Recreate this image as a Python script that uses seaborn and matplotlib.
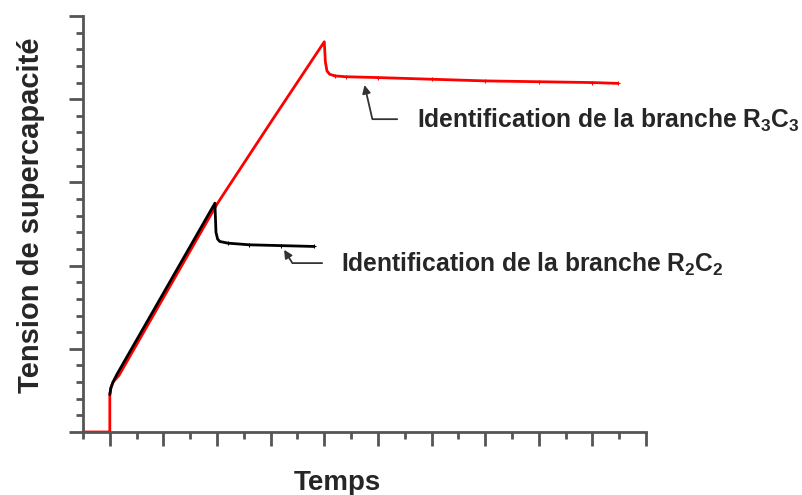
import numpy as np
import pandas as pd
import matplotlib
matplotlib.use('Agg')
import matplotlib.pyplot as plt
import seaborn as sns

# curve (arbitrary units, no tick labels in the original)
red_t = [-0.5, 0.0, 0.0, 0.0, 0.02, 0.06, 0.17, 1.51, 2.00, 3.03, 4.00,
         4.02, 4.05, 4.10, 4.20, 4.40, 5.00, 6.00, 7.00, 8.00, 9.00, 9.48]
red_v = [0.0, 0.0, 0.30, 0.45, 0.53, 0.60, 0.68, 2.19, 2.74, 3.75, 4.69,
         4.45, 4.34, 4.30, 4.28, 4.27, 4.26, 4.24, 4.22, 4.21, 4.20, 4.19]

black_t = [0.0, 0.02, 0.06, 0.13, 1.96,
           1.98, 2.01, 2.05, 2.20, 2.60, 3.20, 3.81]
black_v = [0.45, 0.53, 0.60, 0.69, 2.75,
           2.40, 2.32, 2.29, 2.27, 2.25, 2.24, 2.23]

label_r3 = 'Identification de la branche R$_3$C$_3$'
label_r2 = 'Identification de la branche R$_2$C$_2$'

red_df = pd.DataFrame({'t': red_t, 'v': red_v})
black_df = pd.DataFrame({'t': black_t, 'v': black_v})

sns.set_style('white')
plt.rcParams['font.family'] = ['Liberation Sans', 'DejaVu Sans']
plt.rcParams['mathtext.fontset'] = 'custom'
plt.rcParams['mathtext.rm'] = 'Liberation Sans:bold'
plt.rcParams['mathtext.it'] = 'Liberation Sans:bold'
plt.rcParams['mathtext.bf'] = 'Liberation Sans:bold'

fig = plt.figure(figsize=(8.02, 4.95), dpi=100)
ax = fig.add_axes([83 / 802, 1 - 432 / 495, 563 / 802, 416 / 495])

sns.lineplot(data=red_df, x='t', y='v', color='#ff0000', lw=2, sort=False,
             estimator=None, marker='+', markersize=3, mec='#ff0000',
             markevery=list(range(14, 22)), ax=ax)
sns.lineplot(data=black_df, x='t', y='v', color='black', lw=2, sort=False,
             estimator=None, marker='+', markersize=3, mec='black',
             markevery=list(range(8, 12)), ax=ax)

ax.set_xlim(-0.5, 10)
ax.set_ylim(0, 5)
ax.set_xticks(np.arange(0, 11, 1))
ax.set_xticks(np.arange(-0.5, 10, 1), minor=True)
ax.set_yticks(np.arange(0, 6, 1))
ax.set_yticks(np.arange(0, 5.01, 0.2), minor=True)
ax.set_xticklabels([])
ax.set_yticklabels([])
ax.tick_params(which='major', length=10, width=2, color='#555555', direction='out',
               bottom=True, left=True)
ax.tick_params(which='minor', length=5, width=2, color='#555555', direction='out',
               bottom=True, left=True)

sns.despine(ax=ax)
for side in ['left', 'bottom']:
    ax.spines[side].set_color('#555555')
    ax.spines[side].set_linewidth(2)

ax.set_xlabel('Temps', fontsize=20, fontweight='bold')
ax.set_ylabel('Tension de supercapacité', fontsize=21, fontweight='bold')
ax.xaxis.set_label_coords(0.451, -0.091)
ax.yaxis.set_label_coords(-0.067, 0.52)

arrow = dict(arrowstyle='-|>', color='#333333', lw=1.3, mutation_scale=12,
             shrinkA=0, shrinkB=0)
ax.annotate('', xy=(4.75, 4.17), xytext=(5.36, 3.76),
            arrowprops=dict(arrow, connectionstyle='angle,angleA=0,angleB=103'))
ax.text(5.72, 3.74, label_r3, fontsize=17.7, fontweight='bold', va='center', ha='left')

ax.annotate('', xy=(3.25, 2.19), xytext=(3.96, 2.03),
            arrowprops=dict(arrow, connectionstyle='angle,angleA=0,angleB=122'))
ax.text(4.32, 2.02, label_r2, fontsize=17.7, fontweight='bold', va='center', ha='left')

fig.savefig('out.png', dpi=100)
